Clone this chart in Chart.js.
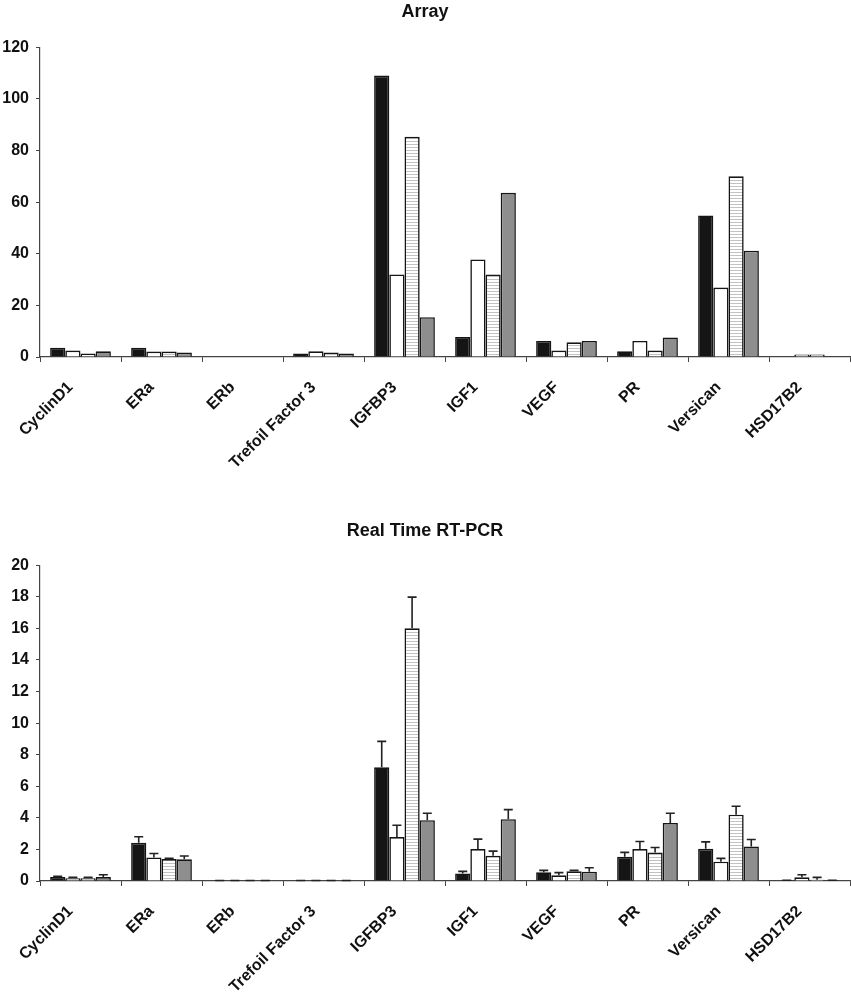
<!DOCTYPE html>
<html>
<head>
<meta charset="utf-8">
<script src="https://cdn.jsdelivr.net/npm/chart.js@4.4.1/dist/chart.umd.min.js"></script>
<style>
  body { margin: 0; background: #fff; }
  #wrap { position: relative; width: 851px; height: 996px; }
  #arrayChart { position: absolute; left: 0; top: 0; }
  #pcrChart { position: absolute; left: 0; top: 500px; }
</style>
</head>
<body>
<div id="wrap">
  <canvas id="arrayChart" width="851" height="470"></canvas>
  <canvas id="pcrChart" width="851" height="496"></canvas>
</div>
<script>
// categories shared by both panels
const genes = ['CyclinD1', 'ERa', 'ERb', 'Trefoil Factor 3', 'IGFBP3', 'IGF1', 'VEGF', 'PR', 'Versican', 'HSD17B2'];

// top panel: Array
const arrayBlack   = [3.6, 3.6, 0, 1.4, 109, 7.7, 6.2, 2.2, 54.8, 0];
const arrayWhite   = [2.5, 2.1, 0, 2.2, 32, 37.8, 2.5, 6.2, 26.9, 1.0];
const arrayStriped = [1.4, 2.1, 0, 1.7, 85.3, 32, 5.7, 2.5, 70, 1.0];
const arrayGray    = [2.2, 1.7, 0, 1.4, 15.4, 63.6, 6.2, 7.6, 41.2, 0];

// bottom panel: Real Time RT-PCR (mean + error)
const pcrBlack      = [0.25, 2.42, 0, 0, 7.2, 0.48, 0.55, 1.54, 2.04, 0.02];
const pcrBlackErr   = [0.05, 0.38, 0.03, 0.03, 1.64, 0.13, 0.12, 0.27, 0.44, 0.03];
const pcrWhite      = [0.17, 1.49, 0, 0, 2.78, 2.02, 0.36, 2.02, 1.22, 0.23];
const pcrWhiteErr   = [0.06, 0.25, 0.03, 0.03, 0.75, 0.63, 0.17, 0.48, 0.21, 0.17];
const pcrStriped    = [0.17, 1.39, 0, 0, 16.0, 1.6, 0.61, 1.81, 4.2, 0.08];
const pcrStripedErr = [0.06, 0.04, 0.03, 0.03, 1.98, 0.29, 0.06, 0.31, 0.53, 0.15];
const pcrGray       = [0.25, 1.37, 0, 0, 3.85, 3.91, 0.59, 3.68, 2.19, 0.02];
const pcrGrayErr    = [0.15, 0.21, 0.03, 0.03, 0.44, 0.61, 0.25, 0.61, 0.44, 0.03];

// horizontal stripe fill for the third series
function makeStripes(ctx) {
    const p = document.createElement('canvas');
    p.width = 4;
    p.height = 3;
    const pc = p.getContext('2d');
    pc.fillStyle = '#ffffff';
    pc.fillRect(0, 0, 4, 3);
    pc.fillStyle = '#c2c2c2';
    pc.fillRect(0, 0, 4, 1);
    return ctx.createPattern(p, 'repeat');
}

// error bars, drawn above each bar from dataset.errors
const errorBars = {
    id: 'errorBars',
    afterDatasetsDraw(chart) {
        const ctx = chart.ctx;
        const y = chart.scales.y;
        ctx.save();
        ctx.strokeStyle = '#222';
        ctx.lineWidth = 1.6;
        chart.data.datasets.forEach((ds, i) => {
            if (!ds.errors) return;
            const meta = chart.getDatasetMeta(i);
            meta.data.forEach((bar, j) => {
                const top = y.getPixelForValue(ds.data[j] + ds.errors[j]);
                ctx.beginPath();
                ctx.moveTo(bar.x, bar.y);
                ctx.lineTo(bar.x, top);
                ctx.moveTo(bar.x - 4.5, top);
                ctx.lineTo(bar.x + 4.5, top);
                ctx.stroke();
            });
        });
        ctx.restore();
    }
};

const tickFont = { family: 'Liberation Sans, Arial, sans-serif', size: 16, weight: 'bold' };
const titleFont = { family: 'Liberation Sans Narrow, Liberation Sans, Arial, sans-serif', size: 18, weight: 'bold' };

function barSet(data, fill, errors) {
    return {
        data: data,
        errors: errors,
        backgroundColor: fill,
        borderColor: '#151515',
        borderWidth: 1.6,
        borderSkipped: 'start',
        categoryPercentage: 0.75,
        barPercentage: 1.0
    };
}

function makeOptions(title, max, step, padTop, padBottom, xHeight) {
    return {
        responsive: false,
        animation: false,
        layout: { padding: { left: 0, right: 1, top: 0, bottom: 0 } },
        plugins: {
            legend: { display: false },
            tooltip: { enabled: false },
            title: {
                display: true,
                text: title,
                color: '#111',
                font: titleFont,
                padding: { top: padTop, bottom: padBottom }
            }
        },
        scales: {
            x: {
                grid: { drawOnChartArea: false, drawTicks: true, tickLength: 5, color: '#444', offset: true },
                border: { display: true, color: '#444', width: 1.2 },
                ticks: { color: '#111', font: tickFont, minRotation: 45, maxRotation: 45, autoSkip: false, padding: 16, labelOffset: -10 },
                afterFit(scale) { scale.height = xHeight; }
            },
            y: {
                min: 0,
                max: max,
                grid: { drawOnChartArea: false, drawTicks: true, tickLength: 4, color: '#444' },
                border: { display: true, color: '#444', width: 1.2 },
                ticks: { color: '#111', font: tickFont, stepSize: step, padding: 7 },
                afterFit(scale) { scale.width = 40; }
            }
        }
    };
}

const c1 = document.querySelector('#arrayChart');
const ctx1 = c1.getContext('2d');
new Chart(ctx1, {
    type: 'bar',
    data: {
        labels: genes,
        datasets: [
            barSet(arrayBlack, '#151515'),
            barSet(arrayWhite, '#ffffff'),
            barSet(arrayStriped, makeStripes(ctx1)),
            barSet(arrayGray, '#8e8e8e')
        ]
    },
    options: makeOptions('Array', 120, 20, 1, 24.6, 113)
});

const c2 = document.querySelector('#pcrChart');
const ctx2 = c2.getContext('2d');
new Chart(ctx2, {
    type: 'bar',
    data: {
        labels: genes,
        datasets: [
            barSet(pcrBlack, '#151515', pcrBlackErr),
            barSet(pcrWhite, '#ffffff', pcrWhiteErr),
            barSet(pcrStriped, makeStripes(ctx2), pcrStripedErr),
            barSet(pcrGray, '#8e8e8e', pcrGrayErr)
        ]
    },
    options: makeOptions('Real Time RT-PCR', 20, 2, 20, 23.6, 115),
    plugins: [errorBars]
});
</script>
</body>
</html>
